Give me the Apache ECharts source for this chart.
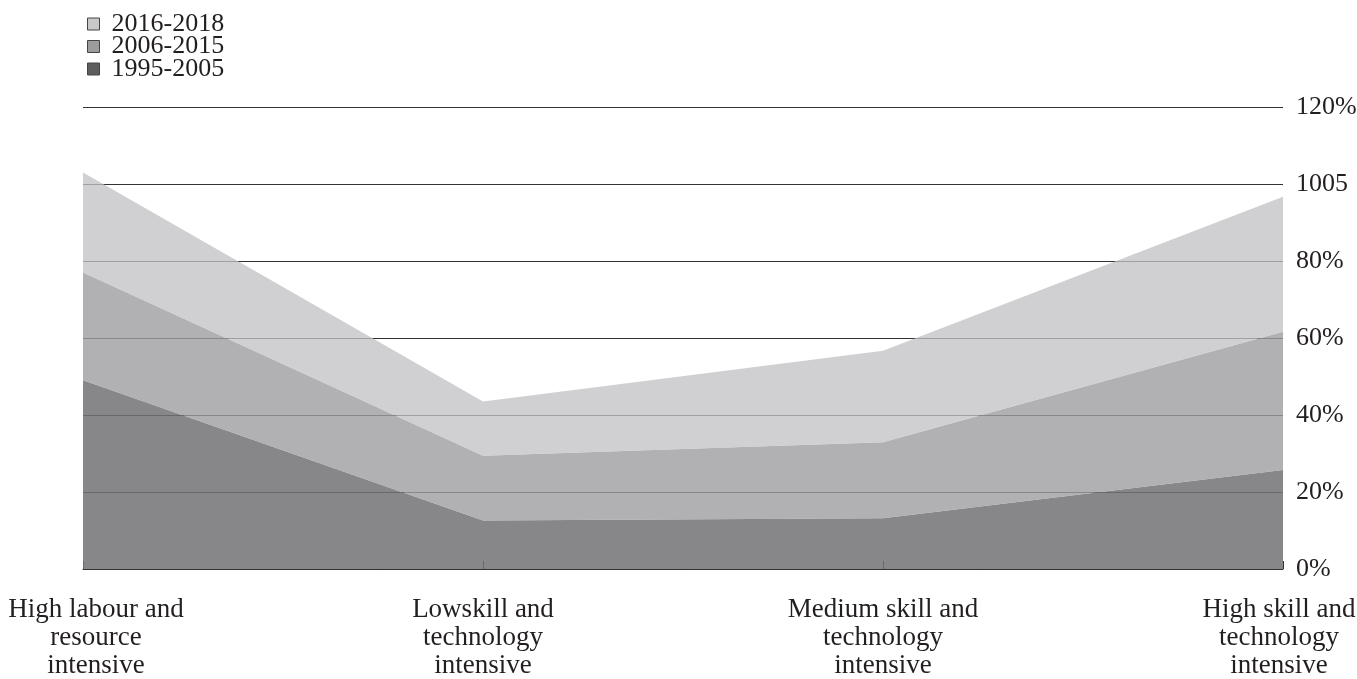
<!DOCTYPE html>
<html>
<head>
<meta charset="utf-8">
<script src="https://cdn.jsdelivr.net/npm/echarts@6/dist/echarts.min.js"></script>
<style>
html,body{margin:0;padding:0;background:#fff;}
#chart{width:1357px;height:679px;}
</style>
</head>
<body>
<div id="chart"></div>
<script>
// Categories (x axis)
const categories = [
  'High labour and\nresource\nintensive',
  'Lowskill and\ntechnology\nintensive',
  'Medium skill and\ntechnology\nintensive',
  'High skill and\ntechnology\nintensive'
];
// Stacked layer thickness (percentage points)
const period1995_2005 = [49, 12.6, 13.2, 25.7];
const period2006_2015 = [28, 16.8, 19.7, 35.9];
const period2016_2018 = [26, 14.1, 23.8, 35.1];
// Y tick labels (as printed in the original, including its typo)
const yTickLabels = ['0%', '20%', '40%', '60%', '80%', '1005', '120%'];

const FONT = '"Liberation Serif", "DejaVu Serif", serif';
const chart = echarts.init(document.getElementById('chart'), null, {renderer: 'canvas'});

const catData = categories.map((c, i) => {
  const item = {value: c};
  if (i === 0) item.textStyle = {padding: [0, 0, 0, 26]};
  if (i === categories.length - 1) item.textStyle = {padding: [0, 8, 0, 0]};
  return item;
});

chart.setOption({
  animation: false,
  backgroundColor: '#fff',
  textStyle: {fontFamily: FONT},
  legend: {
    orient: 'vertical',
    left: 82,
    top: 6,
    itemWidth: 12,
    itemHeight: 12,
    itemGap: -3.5,
    icon: 'rect',
    data: ['2016-2018', '2006-2015', '1995-2005'],
    itemStyle: {borderColor: '#444', borderWidth: 1},
    textStyle: {fontFamily: FONT, fontSize: 26, color: '#231f20', lineHeight: 23, padding: [0, 0, 0, 7]}
  },
  grid: {left: 83, right: 74, top: 107, bottom: 110, containLabel: false, outerBoundsMode: 'none'},
  xAxis: {
    type: 'category',
    boundaryGap: false,
    data: catData,
    axisLine: {show: true, lineStyle: {color: '#333', width: 1}},
    axisTick: {show: true, inside: true, length: 8, lineStyle: {color: '#333'}},
    axisLabel: {
      fontFamily: FONT, fontSize: 27, color: '#231f20', lineHeight: 28, margin: 27,
      interval: 0
    },
    splitLine: {show: false}
  },
  yAxis: {
    type: 'value',
    position: 'right',
    min: 0, max: 120, interval: 20,
    axisLine: {show: false},
    axisTick: {show: false},
    axisLabel: {
      fontFamily: FONT, fontSize: 26, color: '#231f20', margin: 13,
      formatter: (v) => yTickLabels[Math.round(v / 20)]
    },
    splitLine: {show: true, lineStyle: {color: '#333', width: 1}}
  },
  series: [
    {
      name: '1995-2005', type: 'line', stack: 'total', data: period1995_2005,
      symbol: 'none', lineStyle: {width: 0},
      itemStyle: {color: '#5e5e5f'},
      areaStyle: {color: '#737375', opacity: 0.853}
    },
    {
      name: '2006-2015', type: 'line', stack: 'total', data: period2006_2015,
      symbol: 'none', lineStyle: {width: 0},
      itemStyle: {color: '#9c9c9d'},
      areaStyle: {color: '#9d9da0', opacity: 0.8}
    },
    {
      name: '2016-2018', type: 'line', stack: 'total', data: period2016_2018,
      symbol: 'none', lineStyle: {width: 0},
      itemStyle: {color: '#c8c8c9'},
      areaStyle: {color: '#c1c2c5', opacity: 0.765}
    }
  ]
});
</script>
</body>
</html>
